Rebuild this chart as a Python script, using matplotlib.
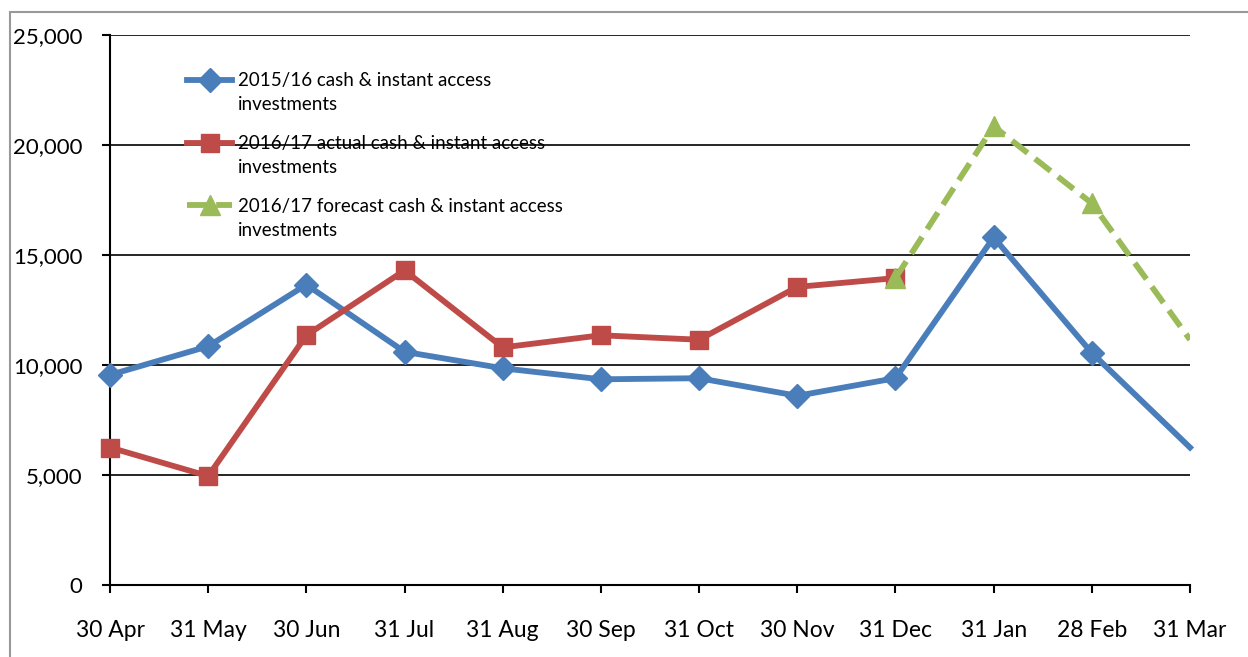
import numpy as np
import matplotlib.pyplot as plt
from matplotlib.patches import Rectangle

plt.rcParams['font.family'] = ['Lato', 'DejaVu Sans']

months = ['30 Apr', '31 May', '30 Jun', '31 Jul', '31 Aug', '30 Sep',
          '31 Oct', '30 Nov', '31 Dec', '31 Jan', '28 Feb', '31 Mar']
cash_1516 = [9550, 10850, 13650, 10600, 9850, 9350, 9400, 8600, 9400, 15800, 10550, 6250]
actual_1617 = [6250, 4950, 11350, 14300, 10800, 11350, 11150, 13550, 13950]
forecast_1617 = [13950, 20850, 17350, 11150]
labels = ['2015/16 cash & instant access',
          '2016/17 actual cash & instant access',
          '2016/17 forecast cash & instant access']

blue = '#4A7EBB'
red = '#BE4B48'
green = '#9BBB59'

W, H = 1248, 657
fig = plt.figure(figsize=(W / 100, H / 100), dpi=100)
ax = fig.add_axes([110 / W, 1 - 585 / H, 1080 / W, 550 / H])

# chart border like the spreadsheet frame
fig.patches.append(Rectangle((10 / W, -0.1), 1.2, 1 - 12 / H + 0.1,
                             transform=fig.transFigure, fill=False,
                             edgecolor='#999999', linewidth=1.5))

x = np.arange(len(months))
ax.plot(x, cash_1516, color=blue, lw=4.2, marker='D', ms=12,
        markevery=list(range(len(months) - 1)), label=labels[0],
        zorder=3, clip_on=False)
ax.plot(x[:len(actual_1617)], actual_1617, color=red, lw=4.2, marker='s', ms=13,
        label=labels[1], zorder=3, clip_on=False)
xf = x[len(actual_1617) - 1:]
ax.plot(xf, forecast_1617, color=green, lw=4.2, marker='^', ms=15,
        dashes=(3.4, 1.6), markevery=[0, 1, 2], label=labels[2], zorder=4)

ax.set_xlim(0, 11)
ax.set_ylim(0, 25000)
ax.set_yticks(range(0, 25001, 5000))
ax.set_yticklabels([f'{v:,}' for v in range(0, 25001, 5000)])
ax.set_xticks(x)
ax.set_xticklabels(months)
ax.yaxis.grid(True, color='black', lw=1.2)
ax.set_axisbelow(True)
for s in ['top', 'right']:
    ax.spines[s].set_visible(False)
ax.spines['left'].set_linewidth(1.5)
ax.spines['bottom'].set_linewidth(1.5)
ax.tick_params(axis='y', length=6, width=1.5, labelsize=16, pad=14)
ax.tick_params(axis='x', length=6, width=1.5, labelsize=16.5, pad=19)

leg = ax.legend(loc='upper left', bbox_to_anchor=(0.0713, 0.9325), frameon=False,
                fontsize=13.5, handlelength=2.4, handletextpad=0.3,
                labelspacing=2.45, borderaxespad=0, borderpad=0)

# second line of each legend label, one line below the first
fig.canvas.draw()
for t in leg.get_texts():
    bb = t.get_window_extent()
    fig.text(bb.x0 / W, (bb.y1 - 24) / H, 'investments', fontsize=13.5,
             ha='left', va='top')

fig.savefig('out.png', dpi=100)
